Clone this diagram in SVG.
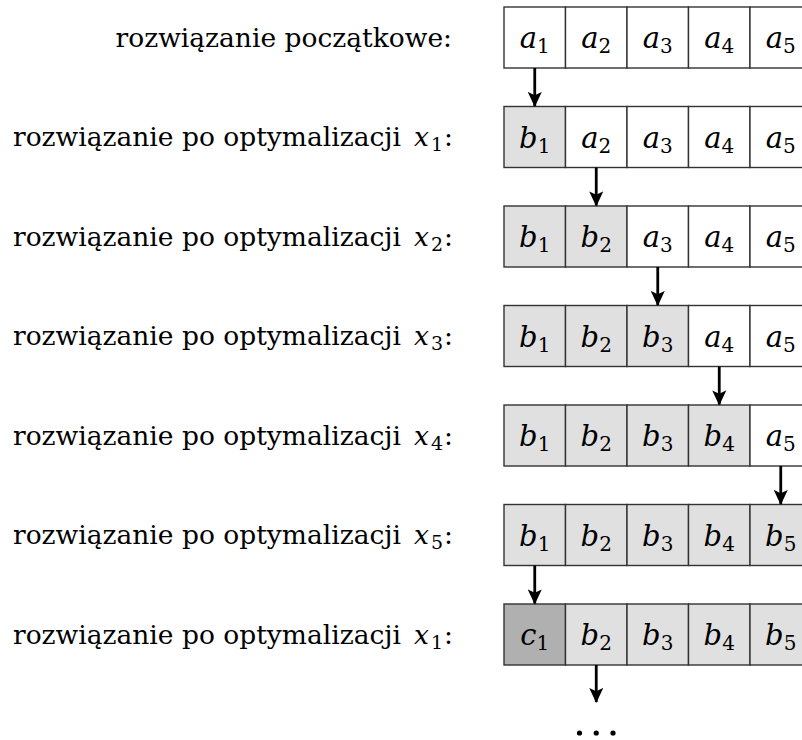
<svg xmlns="http://www.w3.org/2000/svg" width="802" height="740" viewBox="0 0 802 740">
<style>
.lbl{font-family:"DejaVu Serif","Liberation Serif","Noto Serif",serif;font-size:26.5px;fill:#000}
.it{font-style:italic}
.sub{font-size:19px;font-style:normal}
.cs{font-size:20px;font-style:normal}
.cell{stroke:#333;stroke-width:1.4}
.w{fill:#fff}
.g{fill:#e0e0e0}
.d{fill:#b0b0b0}
.cl{font-family:"DejaVu Serif","Liberation Serif","Noto Serif",serif;font-size:29px;fill:#000;text-anchor:middle}
.arr{stroke:#000;stroke-width:2.8;fill:none;marker-end:url(#ah)}
</style>
<defs>
<marker id="ah" markerUnits="userSpaceOnUse" markerWidth="16" markerHeight="14" refX="13" refY="6.5" orient="auto" viewBox="0 0 14 13">
<path d="M0,0 L14,6.5 L0,13 L3,6.5 Z" fill="#000"/>
</marker>
</defs>
<g id="labels">
<text class="lbl" x="452" y="46.5" text-anchor="end">rozwiązanie początkowe:</text>
<text class="lbl" y="146"><tspan x="13">rozwiązanie po optymalizacji</tspan><tspan class="it" x="414">x</tspan><tspan class="sub" x="431" dy="5">1</tspan><tspan x="444" dy="-5">:</tspan></text>
<text class="lbl" y="245.5"><tspan x="13">rozwiązanie po optymalizacji</tspan><tspan class="it" x="414">x</tspan><tspan class="sub" x="431" dy="5">2</tspan><tspan x="444" dy="-5">:</tspan></text>
<text class="lbl" y="345"><tspan x="13">rozwiązanie po optymalizacji</tspan><tspan class="it" x="414">x</tspan><tspan class="sub" x="431" dy="5">3</tspan><tspan x="444" dy="-5">:</tspan></text>
<text class="lbl" y="444.5"><tspan x="13">rozwiązanie po optymalizacji</tspan><tspan class="it" x="414">x</tspan><tspan class="sub" x="431" dy="5">4</tspan><tspan x="444" dy="-5">:</tspan></text>
<text class="lbl" y="544"><tspan x="13">rozwiązanie po optymalizacji</tspan><tspan class="it" x="414">x</tspan><tspan class="sub" x="431" dy="5">5</tspan><tspan x="444" dy="-5">:</tspan></text>
<text class="lbl" y="643.5"><tspan x="13">rozwiązanie po optymalizacji</tspan><tspan class="it" x="414">x</tspan><tspan class="sub" x="431" dy="5">1</tspan><tspan x="444" dy="-5">:</tspan></text>
</g>
<g id="row1">
<g id="r1c1"><rect class="cell w" x="504" y="7" width="61.5" height="61"/><text class="cl" x="534.75" y="48"><tspan class="it">a</tspan><tspan class="cs" dy="5">1</tspan></text></g>
<g id="r1c2"><rect class="cell w" x="565.5" y="7" width="61.5" height="61"/><text class="cl" x="596.25" y="48"><tspan class="it">a</tspan><tspan class="cs" dy="5">2</tspan></text></g>
<g id="r1c3"><rect class="cell w" x="627" y="7" width="61.5" height="61"/><text class="cl" x="657.75" y="48"><tspan class="it">a</tspan><tspan class="cs" dy="5">3</tspan></text></g>
<g id="r1c4"><rect class="cell w" x="688.5" y="7" width="61.5" height="61"/><text class="cl" x="719.25" y="48"><tspan class="it">a</tspan><tspan class="cs" dy="5">4</tspan></text></g>
<g id="r1c5"><rect class="cell w" x="750" y="7" width="61.5" height="61"/><text class="cl" x="780.75" y="48"><tspan class="it">a</tspan><tspan class="cs" dy="5">5</tspan></text></g>
</g>
<g id="row2">
<g id="r2c1"><rect class="cell g" x="504" y="106.5" width="61.5" height="61"/><text class="cl" x="534.75" y="147.5"><tspan class="it">b</tspan><tspan class="cs" dy="5">1</tspan></text></g>
<g id="r2c2"><rect class="cell w" x="565.5" y="106.5" width="61.5" height="61"/><text class="cl" x="596.25" y="147.5"><tspan class="it">a</tspan><tspan class="cs" dy="5">2</tspan></text></g>
<g id="r2c3"><rect class="cell w" x="627" y="106.5" width="61.5" height="61"/><text class="cl" x="657.75" y="147.5"><tspan class="it">a</tspan><tspan class="cs" dy="5">3</tspan></text></g>
<g id="r2c4"><rect class="cell w" x="688.5" y="106.5" width="61.5" height="61"/><text class="cl" x="719.25" y="147.5"><tspan class="it">a</tspan><tspan class="cs" dy="5">4</tspan></text></g>
<g id="r2c5"><rect class="cell w" x="750" y="106.5" width="61.5" height="61"/><text class="cl" x="780.75" y="147.5"><tspan class="it">a</tspan><tspan class="cs" dy="5">5</tspan></text></g>
</g>
<g id="row3">
<g id="r3c1"><rect class="cell g" x="504" y="206" width="61.5" height="61"/><text class="cl" x="534.75" y="247"><tspan class="it">b</tspan><tspan class="cs" dy="5">1</tspan></text></g>
<g id="r3c2"><rect class="cell g" x="565.5" y="206" width="61.5" height="61"/><text class="cl" x="596.25" y="247"><tspan class="it">b</tspan><tspan class="cs" dy="5">2</tspan></text></g>
<g id="r3c3"><rect class="cell w" x="627" y="206" width="61.5" height="61"/><text class="cl" x="657.75" y="247"><tspan class="it">a</tspan><tspan class="cs" dy="5">3</tspan></text></g>
<g id="r3c4"><rect class="cell w" x="688.5" y="206" width="61.5" height="61"/><text class="cl" x="719.25" y="247"><tspan class="it">a</tspan><tspan class="cs" dy="5">4</tspan></text></g>
<g id="r3c5"><rect class="cell w" x="750" y="206" width="61.5" height="61"/><text class="cl" x="780.75" y="247"><tspan class="it">a</tspan><tspan class="cs" dy="5">5</tspan></text></g>
</g>
<g id="row4">
<g id="r4c1"><rect class="cell g" x="504" y="305.5" width="61.5" height="61"/><text class="cl" x="534.75" y="346.5"><tspan class="it">b</tspan><tspan class="cs" dy="5">1</tspan></text></g>
<g id="r4c2"><rect class="cell g" x="565.5" y="305.5" width="61.5" height="61"/><text class="cl" x="596.25" y="346.5"><tspan class="it">b</tspan><tspan class="cs" dy="5">2</tspan></text></g>
<g id="r4c3"><rect class="cell g" x="627" y="305.5" width="61.5" height="61"/><text class="cl" x="657.75" y="346.5"><tspan class="it">b</tspan><tspan class="cs" dy="5">3</tspan></text></g>
<g id="r4c4"><rect class="cell w" x="688.5" y="305.5" width="61.5" height="61"/><text class="cl" x="719.25" y="346.5"><tspan class="it">a</tspan><tspan class="cs" dy="5">4</tspan></text></g>
<g id="r4c5"><rect class="cell w" x="750" y="305.5" width="61.5" height="61"/><text class="cl" x="780.75" y="346.5"><tspan class="it">a</tspan><tspan class="cs" dy="5">5</tspan></text></g>
</g>
<g id="row5">
<g id="r5c1"><rect class="cell g" x="504" y="405" width="61.5" height="61"/><text class="cl" x="534.75" y="446"><tspan class="it">b</tspan><tspan class="cs" dy="5">1</tspan></text></g>
<g id="r5c2"><rect class="cell g" x="565.5" y="405" width="61.5" height="61"/><text class="cl" x="596.25" y="446"><tspan class="it">b</tspan><tspan class="cs" dy="5">2</tspan></text></g>
<g id="r5c3"><rect class="cell g" x="627" y="405" width="61.5" height="61"/><text class="cl" x="657.75" y="446"><tspan class="it">b</tspan><tspan class="cs" dy="5">3</tspan></text></g>
<g id="r5c4"><rect class="cell g" x="688.5" y="405" width="61.5" height="61"/><text class="cl" x="719.25" y="446"><tspan class="it">b</tspan><tspan class="cs" dy="5">4</tspan></text></g>
<g id="r5c5"><rect class="cell w" x="750" y="405" width="61.5" height="61"/><text class="cl" x="780.75" y="446"><tspan class="it">a</tspan><tspan class="cs" dy="5">5</tspan></text></g>
</g>
<g id="row6">
<g id="r6c1"><rect class="cell g" x="504" y="504.5" width="61.5" height="61"/><text class="cl" x="534.75" y="545.5"><tspan class="it">b</tspan><tspan class="cs" dy="5">1</tspan></text></g>
<g id="r6c2"><rect class="cell g" x="565.5" y="504.5" width="61.5" height="61"/><text class="cl" x="596.25" y="545.5"><tspan class="it">b</tspan><tspan class="cs" dy="5">2</tspan></text></g>
<g id="r6c3"><rect class="cell g" x="627" y="504.5" width="61.5" height="61"/><text class="cl" x="657.75" y="545.5"><tspan class="it">b</tspan><tspan class="cs" dy="5">3</tspan></text></g>
<g id="r6c4"><rect class="cell g" x="688.5" y="504.5" width="61.5" height="61"/><text class="cl" x="719.25" y="545.5"><tspan class="it">b</tspan><tspan class="cs" dy="5">4</tspan></text></g>
<g id="r6c5"><rect class="cell g" x="750" y="504.5" width="61.5" height="61"/><text class="cl" x="780.75" y="545.5"><tspan class="it">b</tspan><tspan class="cs" dy="5">5</tspan></text></g>
</g>
<g id="row7">
<g id="r7c1"><rect class="cell d" x="504" y="604" width="61.5" height="61"/><text class="cl" x="534.75" y="645"><tspan class="it">c</tspan><tspan class="cs" dy="5">1</tspan></text></g>
<g id="r7c2"><rect class="cell g" x="565.5" y="604" width="61.5" height="61"/><text class="cl" x="596.25" y="645"><tspan class="it">b</tspan><tspan class="cs" dy="5">2</tspan></text></g>
<g id="r7c3"><rect class="cell g" x="627" y="604" width="61.5" height="61"/><text class="cl" x="657.75" y="645"><tspan class="it">b</tspan><tspan class="cs" dy="5">3</tspan></text></g>
<g id="r7c4"><rect class="cell g" x="688.5" y="604" width="61.5" height="61"/><text class="cl" x="719.25" y="645"><tspan class="it">b</tspan><tspan class="cs" dy="5">4</tspan></text></g>
<g id="r7c5"><rect class="cell g" x="750" y="604" width="61.5" height="61"/><text class="cl" x="780.75" y="645"><tspan class="it">b</tspan><tspan class="cs" dy="5">5</tspan></text></g>
</g>
<g id="connectors">
<line class="arr" x1="534.75" y1="68" x2="534.75" y2="106"/>
<line class="arr" x1="596.25" y1="167.5" x2="596.25" y2="205.5"/>
<line class="arr" x1="657.75" y1="267" x2="657.75" y2="305"/>
<line class="arr" x1="719.25" y1="366.5" x2="719.25" y2="404.5"/>
<line class="arr" x1="780.75" y1="466" x2="780.75" y2="504"/>
<line class="arr" x1="534.75" y1="565.5" x2="534.75" y2="603.5"/>
<line class="arr" x1="596.25" y1="665" x2="596.25" y2="702"/>
</g>
<g id="ellipsis" fill="#000">
<circle cx="579.5" cy="733" r="2.6"/>
<circle cx="596.25" cy="733" r="2.6"/>
<circle cx="613" cy="733" r="2.6"/>
</g>
</svg>
